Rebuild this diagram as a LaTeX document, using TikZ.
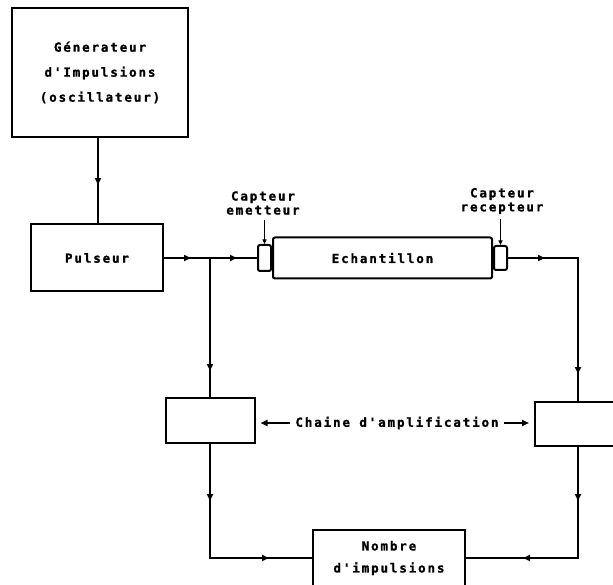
\documentclass[tikz,border=0pt]{standalone}
\usepackage{fontspec}
\newfontfamily\lbl[LetterSpace=15, BoldFeatures={FakeBold=1.2}]{DejaVu Sans Mono}
\usetikzlibrary{arrows.meta,decorations.markings}
\tikzset{
  box/.style={draw, line width=2pt, inner sep=0pt, align=center,
    font={\lbl\bfseries\fontsize{12.5}{22}\selectfont}},
  txt/.style={inner sep=5pt, align=center,
    font={\lbl\bfseries\fontsize{12.5}{14}\selectfont}},
  wire/.style={line width=2pt},
  tip/.style={-{Triangle[length=7pt,width=6pt]}},
  arrone/.style={postaction={decorate,decoration={markings,
    mark=at position #1 with {\arrow{Triangle[length=7pt,width=6pt]}}}}}
}
\begin{document}
\begin{tikzpicture}[x=1pt,y=-1pt]
\useasboundingbox (0,0) rectangle (613,585);
\clip (0,0) rectangle (613,585);
\fill[white] (0,0) rectangle (613,585);

\node[box, minimum width=176pt, minimum height=129pt,
  font={\lbl\bfseries\fontsize{12.5}{25}\selectfont}] (gen) at (100,72.5)
  {Génerateur\\d'Impulsions\\(oscillateur)};
\node[box, minimum width=132pt, minimum height=67pt] (pul) at (97,258) {Pulseur};
\node[box, rounded corners=2pt, minimum width=219pt, minimum height=41pt] (ech) at (382.5,258) {Echantillon};
\node[box, rounded corners=2pt, minimum width=13pt, minimum height=26pt, anchor=east] (em) at (ech.west) {};
\node[box, rounded corners=2pt, minimum width=13pt, minimum height=24pt, anchor=west] (rec) at (ech.east) {};
\node[txt] (emlab) at (263,203) {Capteur\\emetteur};
\node[txt] (reclab) at (502,201) {Capteur\\recepteur};
\node[box, minimum width=89pt, minimum height=45pt] (ampL) at (210,420.5) {};
\node[box, minimum width=86pt, minimum height=44pt] (ampR) at (578,424) {};
\node[txt] (chain) at (397,423) {Chaine d'amplification};
\node[box, minimum width=152pt, minimum height=57pt] (nom) at (389,558) {Nombre\\d'impulsions};

\coordinate (j1) at (210,258);
\coordinate (c1) at (578,258);

\draw[wire, arrone=0.55] (gen.south -| 98,0) -- (pul.north -| 98,0);
\draw[wire, arrone=27pt, arrone=73pt] (pul.east) -- (em.west);
\draw[wire, arrone=113pt] (j1) -- (ampL.north);
\draw[wire, arrone=37pt, arrone=186pt] (rec.east) -- (c1) -- (ampR.north);
\draw[wire, tip, shorten >=5pt] (chain.west) -- (ampL.east |- chain.west);
\draw[wire, tip, shorten >=5pt] (chain.east) -- (ampR.west |- chain.east);
\draw[wire, arrone=57pt, arrone=173pt] (ampL.south) |- (nom.west);
\draw[wire, arrone=54pt, arrone=166pt] (ampR.south) |- (nom.east);
\draw[line width=1pt, -{Triangle[length=4.5pt,width=4pt]}] (emlab.south -| em.north) -- (em.north);
\draw[line width=1pt, -{Triangle[length=4.5pt,width=4pt]}] (reclab.south -| rec.north) -- (rec.north);
\end{tikzpicture}
\end{document}
